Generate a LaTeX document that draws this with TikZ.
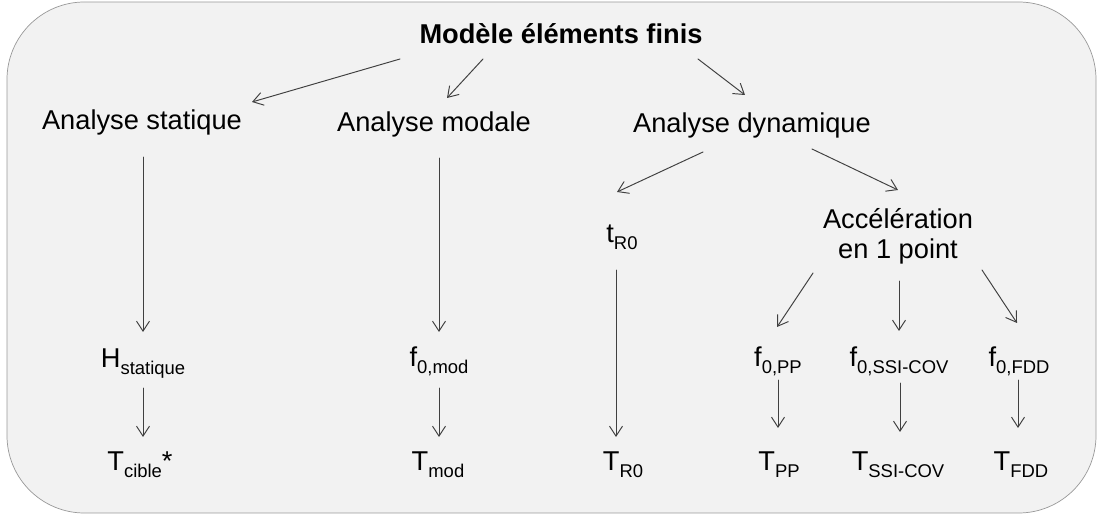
\documentclass[tikz,border=0pt]{standalone}
\usepackage{fontspec}
\setmainfont{Liberation Sans}
\usepackage{tikz}
\usetikzlibrary{arrows.meta}
\tikzset{
  every picture/.style={line join=round, line cap=round, >=Stealth},
  lbl/.style={inner sep=0pt, anchor=base, font=\fontsize{15.5pt}{19pt}\selectfont},
  fleche/.style={draw=black!75, line width=0.55pt, -{Straight Barb[length=2mm,width=2.6mm]}},
}
\newcommand{\ind}[1]{\raisebox{-0.25em}{\fontsize{10.5pt}{12pt}\selectfont #1}}

\begin{document}
\begin{tikzpicture}[x=0.02cm,y=-0.02cm]
\useasboundingbox (0,0) rectangle (1099,516);
\draw[draw=black!40, fill=black!5, rounded corners=1.55cm] (7,2) rectangle (1096,513);
% niveaux du haut
\node[lbl, font=\fontsize{15.5pt}{19pt}\selectfont\bfseries] (titre) at (561,44) {Modèle éléments finis};
\node[lbl] (statique) at (142,130) {Analyse statique};
\node[lbl] (modale) at (434,132) {Analyse modale};
\node[lbl] (dynamique) at (752,133) {Analyse dynamique};
\node[lbl] (tr0) at (622,243) {t\ind{R0}};
\node[lbl, align=center, font=\fontsize{15.5pt}{17.6pt}\selectfont] (accel) at (898,259) {Accélération\\en 1 point};
% frequences
\node[lbl] (hstat) at (143,368) {H\ind{statique}};
\node[lbl] (fmod) at (439,367) {f\ind{0,mod}};
\node[lbl] (fpp) at (778,367) {f\ind{0,PP}};
\node[lbl] (fssi) at (899,367) {f\ind{0,SSI-COV}};
\node[lbl] (ffdd) at (1019,367) {f\ind{0,FDD}};
% periodes
\node[lbl] (tcible) at (140,471) {T\ind{cible}*};
\node[lbl] (tmod) at (438,471) {T\ind{mod}};
\node[lbl] (tRzero) at (623,471) {T\ind{R0}};
\node[lbl] (tpp) at (779,471) {T\ind{PP}};
\node[lbl] (tssi) at (898,471) {T\ind{SSI-COV}};
\node[lbl] (tfdd) at (1021,471) {T\ind{FDD}};
% fleches
\draw[fleche] ([shift={(-161,15)}]titre.base) -- ([shift={(110,-28)}]statique.base);
\draw[fleche] ([shift={(-78,15)}]titre.base) -- ([shift={(13,-34)}]modale.base);
\draw[fleche] ([shift={(137,15)}]titre.base) -- ([shift={(-7,-38)}]dynamique.base);
\draw[fleche] ([shift={(1,27)}]statique.base) -- ([shift={(0,-36)}]hstat.base);
\draw[fleche] ([shift={(0,20)}]hstat.base) -- ([shift={(3,-34)}]tcible.base);
\draw[fleche] ([shift={(5,26)}]modale.base) -- ([shift={(0,-35)}]fmod.base);
\draw[fleche] ([shift={(0,21)}]fmod.base) -- ([shift={(1,-34)}]tmod.base);
\draw[fleche] ([shift={(-49,19)}]dynamique.base) -- ([shift={(-5,-51)}]tr0.base);
\draw[fleche] ([shift={(60,16)}]dynamique.base) -- ([shift={(0,-69)}]accel.base);
\draw[fleche] ([shift={(-6,27)}]tr0.base) -- ([shift={(-7,-34)}]tRzero.base);
\draw[fleche] ([shift={(-85,14)}]accel.base) -- ([shift={(-1,-40)}]fpp.base);
\draw[fleche] ([shift={(1,22)}]accel.base) -- ([shift={(0,-36)}]fssi.base);
\draw[fleche] ([shift={(84,11)}]accel.base) -- ([shift={(-2,-44)}]ffdd.base);
\draw[fleche] ([shift={(0,13)}]fpp.base) -- ([shift={(-1,-43)}]tpp.base);
\draw[fleche] ([shift={(1,16)}]fssi.base) -- ([shift={(2,-39)}]tssi.base);
\draw[fleche] ([shift={(-1,13)}]ffdd.base) -- ([shift={(-3,-43)}]tfdd.base);
\end{tikzpicture}
\end{document}
